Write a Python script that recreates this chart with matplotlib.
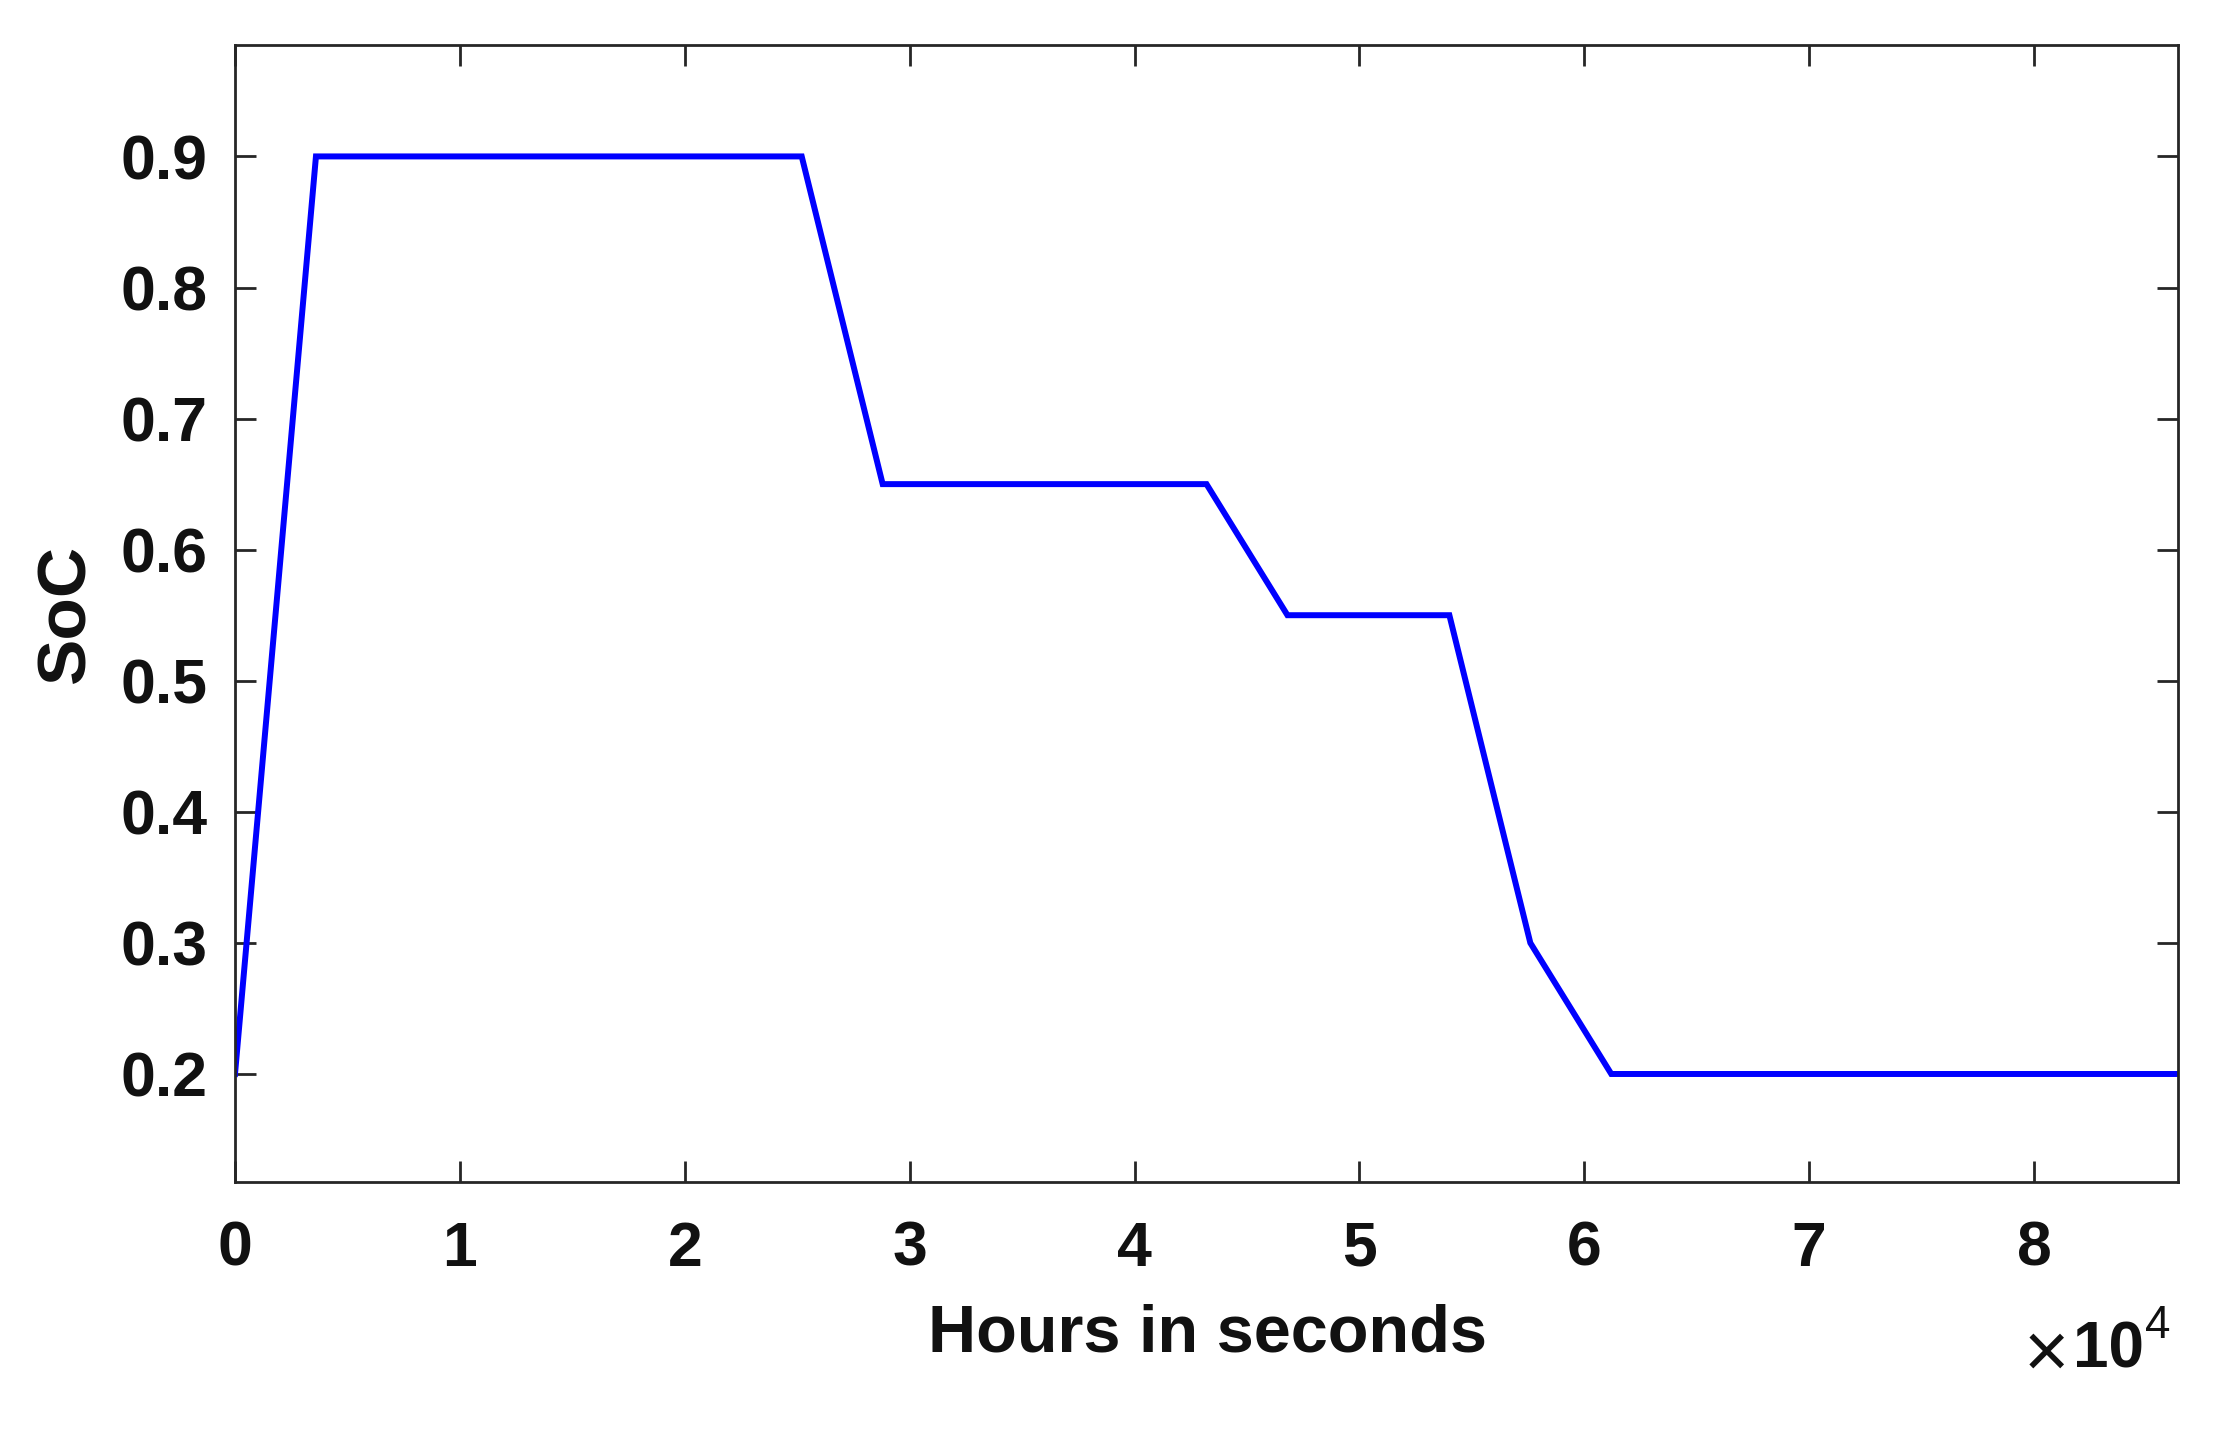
import matplotlib
matplotlib.use("Agg")
import matplotlib.pyplot as plt

# Data (time in seconds, state of charge)
time_s = [0, 3600, 25200, 28800, 43200, 46800, 54000, 57600, 61200, 86400]
soc = [0.2, 0.9, 0.9, 0.65, 0.65, 0.55, 0.55, 0.3, 0.2, 0.2]

xticks = [0, 1e4, 2e4, 3e4, 4e4, 5e4, 6e4, 7e4, 8e4]
xtick_labels = ["0", "1", "2", "3", "4", "5", "6", "7", "8"]
yticks = [0.2, 0.3, 0.4, 0.5, 0.6, 0.7, 0.8, 0.9]
ytick_labels = ["0.2", "0.3", "0.4", "0.5", "0.6", "0.7", "0.8", "0.9"]

plt.rcParams['font.family'] = ['Liberation Sans', 'DejaVu Sans']
axcol = '#262626'
txtcol = '#111111'

W, H = 2218, 1429
fig = plt.figure(figsize=(W / 100, H / 100), dpi=100)
left, right, top, bottom = 235, 2178, 45, 1182
ax = fig.add_axes([left / W, 1 - bottom / H, (right - left) / W, (bottom - top) / H])

ax.plot(time_s, soc, color=(0, 0, 1), linewidth=4.3, solid_joinstyle='miter')

ax.set_xlim(0, 86400)
ax.set_ylim(0.1176, 0.985)
ax.set_xticks(xticks)
ax.set_xticklabels(xtick_labels)
ax.set_yticks(yticks)
ax.set_yticklabels(ytick_labels)

ax.tick_params(direction='in', length=15, width=2, colors=axcol, labelcolor=txtcol,
               labelsize=45, top=True, right=True)
ax.tick_params(axis='x', pad=27)
ax.tick_params(axis='y', pad=20)
for lbl in ax.get_xticklabels() + ax.get_yticklabels():
    lbl.set_fontweight('bold')
for sp in ax.spines.values():
    sp.set_linewidth(2)
    sp.set_color(axcol)

ax.set_xlabel("Hours in seconds", fontsize=48, fontweight='bold', color=txtcol)
ax.xaxis.label.set_verticalalignment('center')
ax.xaxis.set_label_coords(1207 / W, 1 - 1334 / H, transform=fig.transFigure)

ax.set_ylabel("SoC", fontsize=50, fontweight='bold', color=txtcol)
ax.yaxis.label.set_verticalalignment('center')
ax.yaxis.set_label_coords(66 / W, 1 - 613 / H, transform=fig.transFigure)

# axis multiplier (x 10^4)
fig.text(2046 / W, 1 - 1356 / H, "\u00d7", fontsize=56, fontweight='normal',
         color=txtcol, ha='center', va='center')
fig.text(2073 / W, 1 - 1350 / H, "10", fontsize=46, fontweight='bold',
         color=txtcol, ha='left', va='center')
fig.text(2145 / W, 1 - 1326 / H, "4", fontsize=33, fontweight='normal',
         color=txtcol, ha='left', va='center')

fig.savefig("out.png", dpi=100, facecolor='white')
